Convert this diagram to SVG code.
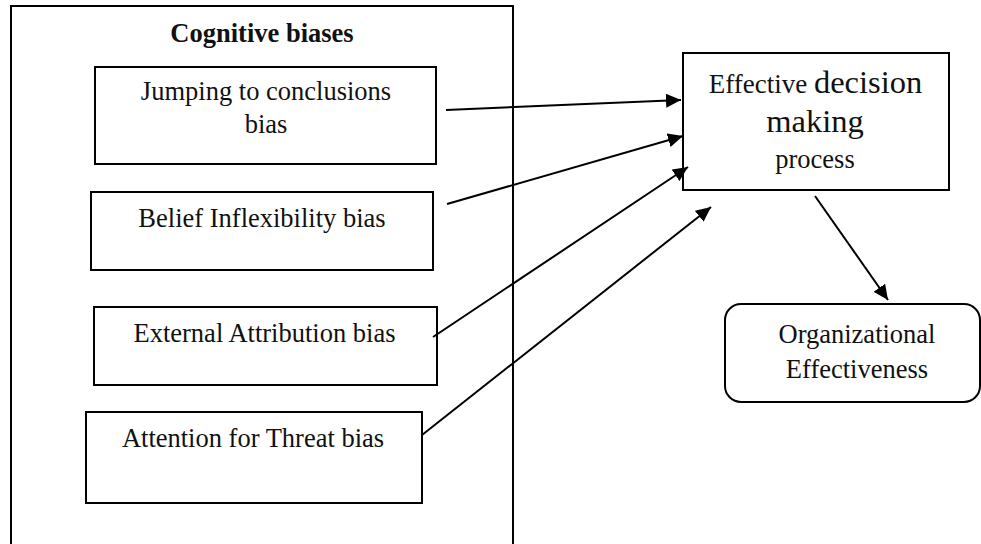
<svg xmlns="http://www.w3.org/2000/svg" width="981" height="544" viewBox="0 0 981 544">
<style>
  .box { fill: #fff; stroke: #000; stroke-width: 2; }
  .t { font-family: "Liberation Serif", "Times New Roman", serif; font-size: 26.5px; fill: #111; text-anchor: middle; }
  .b { font-weight: bold; }
  .big { font-size: 32.5px; }
  .conn line { stroke: #000; stroke-width: 2; marker-end: url(#ah); }
</style>
<defs>
  <marker id="ah" markerUnits="userSpaceOnUse" markerWidth="16" markerHeight="14" refX="15" refY="7" orient="auto">
    <path d="M0,0 L15,7 L0,14 Z" fill="#000"/>
  </marker>
</defs>
<rect width="981" height="544" fill="#fff"/>
<g id="cognitive-biases">
  <rect class="box" x="11" y="6" width="502" height="560"/>
  <text class="t b" x="262" y="42">Cognitive biases</text>
</g>
<g id="jumping">
  <rect class="box" x="95" y="67" width="341" height="97"/>
  <text class="t" x="266" y="100">Jumping to conclusions</text>
  <text class="t" x="266" y="133">bias</text>
</g>
<g id="belief">
  <rect class="box" x="91" y="192" width="342" height="78"/>
  <text class="t" x="262" y="227">Belief Inflexibility bias</text>
</g>
<g id="external">
  <rect class="box" x="94" y="307" width="343" height="78"/>
  <text class="t" x="264.5" y="342">External Attribution bias</text>
</g>
<g id="attention">
  <rect class="box" x="86" y="412" width="336" height="91"/>
  <text class="t" x="253" y="447">Attention for Threat bias</text>
</g>
<g id="decision">
  <rect class="box" x="683" y="53" width="266" height="137"/>
  <text class="t" x="815.5" y="93"><tspan style="font-size:27px">Effective </tspan><tspan class="big">decision</tspan></text>
  <text class="t big" x="815" y="132">making</text>
  <text class="t" x="815" y="168">process</text>
</g>
<g id="org">
  <rect class="box" x="725" y="304" width="255" height="98" rx="16" ry="16"/>
  <text class="t" x="857" y="343">Organizational</text>
  <text class="t" x="857" y="378">Effectiveness</text>
</g>
<g class="conn" id="connectors">
  <line x1="446" y1="110" x2="681" y2="100"/>
  <line x1="447" y1="204" x2="683" y2="136"/>
  <line x1="433" y1="337" x2="688" y2="167"/>
  <line x1="422" y1="435" x2="711" y2="207"/>
  <line x1="815" y1="196" x2="888" y2="300"/>
</g>
</svg>
